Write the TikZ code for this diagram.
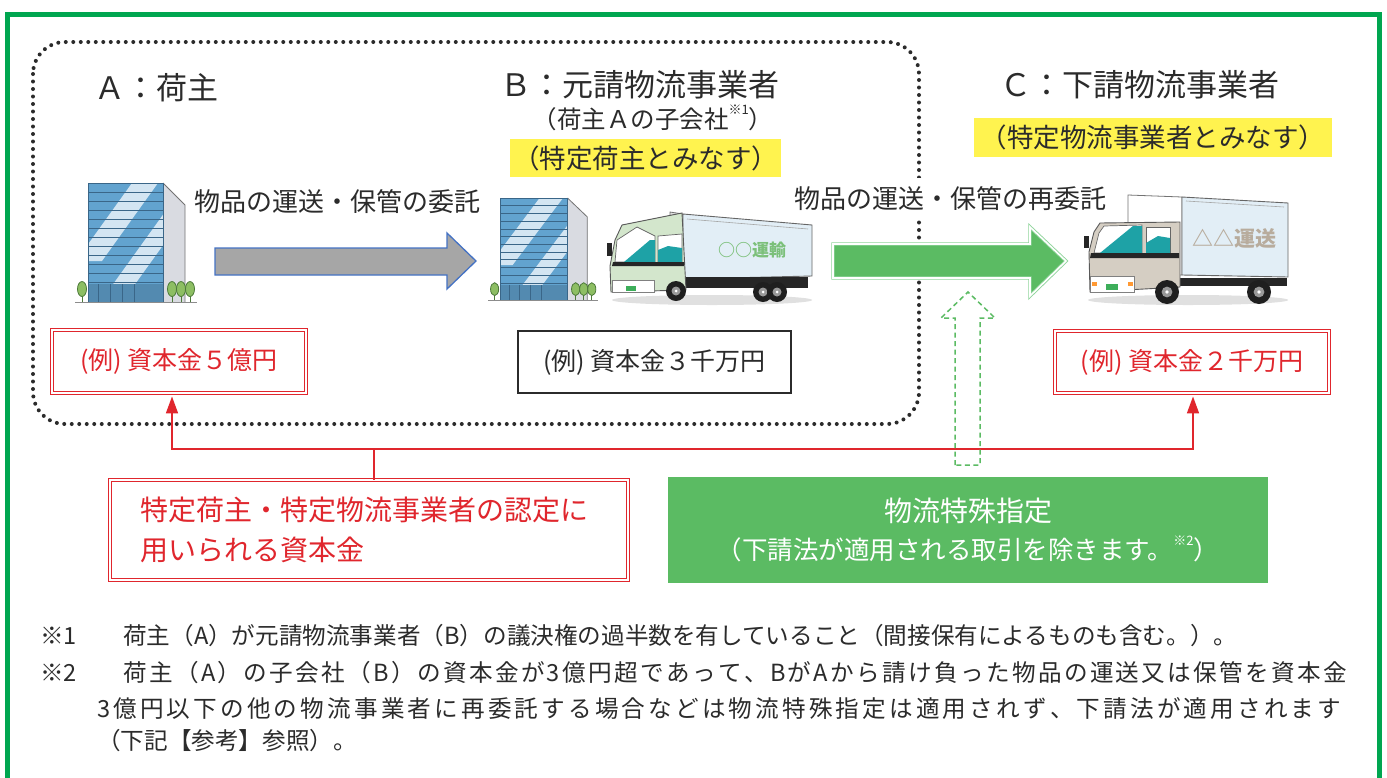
\documentclass[tikz,border=0pt]{standalone}
\usepackage{fontspec}
\setmainfont{Noto Sans CJK JP}
\usetikzlibrary{arrows.meta}
\definecolor{ink}{HTML}{2B2B2B}
\definecolor{capred}{HTML}{E0262D}
\definecolor{framegreen}{HTML}{00A650}
\definecolor{boxgreen}{HTML}{5BBB63}
\definecolor{lightgreen}{HTML}{8FD49B}
\definecolor{hiyellow}{HTML}{FFF34F}
\definecolor{arrowgray}{HTML}{A6A6A6}
\definecolor{arrowblue}{HTML}{4472C4}
\definecolor{facade}{HTML}{62A3CF}
\definecolor{stripe}{HTML}{D3E5F2}
\definecolor{bline}{HTML}{3A6688}
\definecolor{sidegray}{HTML}{D9DBE1}
\definecolor{treegreen}{HTML}{8DBE63}
\definecolor{treeedge}{HTML}{4D7A3A}
\definecolor{cabgreen}{HTML}{D3E6CC}
\definecolor{cabbeige}{HTML}{D5CEC3}
\definecolor{tealglass}{HTML}{1EA2A6}
\definecolor{boxblue}{HTML}{E2EEF6}
\definecolor{plategreen}{HTML}{3DAE5A}
\definecolor{taggreen}{HTML}{7CC07A}
\definecolor{tagbrown}{HTML}{B8AC9D}
\newcommand\fsz[1]{\fontsize{#1}{#1}\selectfont}
\newcommand\smark[1]{\raisebox{0.55em}{\fontsize{13}{13}\selectfont #1}}
\makeatletter
\def\jspread#1{\@jspread#1\@nil}
\def\@jspread#1{\ifx#1\@nil\else#1\hfil\expandafter\@jspread\fi}
\makeatother
\newcommand\officeblock{%
  \fill[sidegray] (75,0) -- (97,22) -- (97,119) -- (75,119) -- cycle;
  \draw[black!55, line width=0.8pt] (75,0) -- (97,22) -- (97,119);
  \fill[facade] (0,0) rectangle (75,119);
  \begin{scope}
    \clip (0,0) rectangle (75,101);
    \fill[stripe] (44,0) -- (70,0) -- (14,78) -- (-12,78) -- cycle;
    \fill[stripe] (82,22) -- (104,22) -- (45,104) -- (23,104) -- cycle;
  \end{scope}
  \foreach \k in {1,...,11} \draw[bline, line width=0.9pt] (0,{\k*9}) -- (75,{\k*9});
  \fill[facade!85!black] (0,101) rectangle (75,119);
  \foreach \k in {10,22,34,46} \draw[bline, line width=0.9pt] (\k,101) -- (\k,119);
  \draw[bline, line width=1pt] (0,0) rectangle (75,119);
  \foreach \tx in {-6,84,93,102} {
    \draw[treeedge, line width=0.8pt] (\tx,108) -- (\tx,119);
    \filldraw[fill=treegreen, draw=treeedge, line width=0.8pt] (\tx,106) ellipse (4.5 and 7.5);
  }
  \draw[black!45, line width=1pt] (-13,119) -- (109,119);
}
\newcommand\truckwheel[3]{%
  \fill[black!88] (#1,#2) circle (#3);
  \fill[black!40] (#1,#2) circle (#3*0.45);
  \fill[white] (#1,#2) circle (#3*0.15);
}
\begin{document}
\begin{tikzpicture}[x=1pt,y=-1pt,
  every node/.style={inner sep=0pt, text=ink},
  title/.style={anchor=west, font=\fsz{31}},
  flowlabel/.style={fill=white, inner xsep=4pt, inner ysep=9pt, font=\fsz{26}},
  hilite/.style={fill=hiyellow, font=\fsz{26.5}},
  capbox/.style={draw=capred, line width=0.9pt, double=white, double distance=1.6pt, text=capred, font=\fsz{25}},
  plainbox/.style={draw=ink, line width=1.8pt, font=\fsz{25}},
  capline/.style={draw=capred, line width=1.6pt},
  note/.style={anchor=west, font=\fsz{23.6}},
  tag/.style={font=\fsz{#1}\bfseries}]
\useasboundingbox (0,0) rectangle (1387,777);
\fill[white] (0,0) rectangle (1387,777);

% outer frame
\draw[framegreen, line width=5pt] (7.5,790) -- (7.5,14.5) -- (1379.5,14.5) -- (1379.5,790);

% dotted group A+B
\draw[ink, line width=4pt, line cap=round, dash pattern=on 0pt off 7.5pt, rounded corners=32pt] (33,42) rectangle (919,424);

% titles
\node[title] (tA) at (94,88) {Ａ：荷主};
\node[title] (tB) at (500,85) {Ｂ：元請物流事業者};
\node[title] (tC) at (1000,85) {Ｃ：下請物流事業者};
\node[font=\fsz{24.5}] (subB) at (653,118) {（荷主Ａの子会社\smark{※1}）};
\node[hilite, minimum width=271pt, minimum height=38pt] (hB) at (645.5,158) {（特定荷主とみなす）};
\node[hilite, minimum width=358pt, minimum height=39pt] (hC) at (1153,137.5) {（特定物流事業者とみなす）};

% flow labels
\node[flowlabel] (lab1) at (337,202) {物品の運送・保管の委託};
\node[flowlabel] (lab2) at (950,199) {物品の運送・保管の再委託};

% buildings
\begin{scope}[shift={(88,183)}]
  \officeblock
\end{scope}
\begin{scope}[shift={(500,198)}, xscale=0.9, yscale=0.86]
  \officeblock
\end{scope}

% truck B
\fill[black!12] (712,300) ellipse (100 and 5);
\filldraw[fill=black!12, draw=black!55, line width=0.8pt] (670,212) -- (683,214) -- (683,279) -- (670,279) -- cycle;
\filldraw[fill=boxblue, draw=black!60, line width=0.9pt] (683,214) -- (812,225) -- (812,276) -- (683,279) -- cycle;
\draw[black!35, line width=0.6pt] (687,219) -- (808,229);
\node[tag=17, text=taggreen] (tagB) at (752,250) {○○運輸};
\fill[black!85] (683,277) rectangle (808,288);
\filldraw[fill=cabgreen, draw=black!65, line width=0.9pt] (610,266) -- (615,240) -- (622,225) -- (682,213) -- (686,290) -- (611,292) -- cycle;
\filldraw[fill=white, draw=black!60, line width=0.7pt] (615,262) -- (617,240) -- (637,227) -- (655,236) -- (655,262) -- cycle;
\fill[tealglass] (624,262) -- (650,240) -- (655,240) -- (655,262) -- cycle;
\filldraw[fill=white, draw=black!60, line width=0.7pt] (658,236) -- (682,234) -- (682,262) -- (658,262) -- cycle;
\fill[tealglass] (658,250) -- (668,246) -- (682,248) -- (682,262) -- (658,262) -- cycle;
\fill[black!85] (613,262) -- (684,262) -- (684,266) -- (612,266) -- cycle;
\filldraw[fill=white, draw=black!50, line width=0.7pt] (612,280) rectangle (654,292);
\fill[plategreen] (626,286) rectangle (636,291);
\fill[black!85] (607,243) rectangle (612,256);
\truckwheel{676}{291}{10}
\truckwheel{763}{292}{10}
\truckwheel{777}{292}{10}

% truck C
\fill[black!12] (1188,300) ellipse (100 and 5);
\filldraw[fill=white, draw=black!55, line width=0.8pt] (1128,195) -- (1182,197) -- (1182,275) -- (1128,275) -- cycle;
\filldraw[fill=boxblue, draw=black!60, line width=0.9pt] (1182,197) -- (1288,203) -- (1288,277) -- (1182,275) -- cycle;
\draw[black!35, line width=0.6pt] (1186,201) -- (1284,207);
\node[tag=21, text=tagbrown] (tagC) at (1234,238) {△△運送};
\fill[black!85] (1180,278) rectangle (1287,286);
\filldraw[fill=cabbeige, draw=black!65, line width=0.9pt] (1089,252) -- (1094,232) -- (1100,223) -- (1180,222) -- (1180,287) -- (1090,292) -- cycle;
\filldraw[fill=white, draw=black!60, line width=0.7pt] (1094,253) -- (1099,233) -- (1104,226) -- (1142,225) -- (1142,253) -- cycle;
\fill[tealglass] (1100,253) -- (1133,226) -- (1142,226) -- (1142,253) -- cycle;
\filldraw[fill=white, draw=black!60, line width=0.7pt] (1146,227) -- (1170,227) -- (1170,253) -- (1146,253) -- cycle;
\fill[tealglass] (1146,243) -- (1158,236) -- (1170,238) -- (1170,253) -- (1146,253) -- cycle;
\fill[black!85] (1091,253) -- (1179,253) -- (1179,258) -- (1090,258) -- cycle;
\filldraw[fill=white, draw=black!50, line width=0.7pt] (1090,276) rectangle (1134,292);
\fill[plategreen] (1106,284) rectangle (1118,290);
\fill[orange!80] (1092,282) rectangle (1097,286);
\fill[orange!80] (1128,282) rectangle (1133,286);
\fill[black!85] (1084,236) rectangle (1089,248);
\truckwheel{1167}{292}{12}
\truckwheel{1259}{292}{12}

% flow arrows
\filldraw[fill=arrowgray, draw=arrowblue, line width=1.3pt] (215,248) -- (447,248) -- (447,233) -- (476,261) -- (447,289) -- (447,275) -- (215,275) -- cycle;
\filldraw[fill=boxgreen, draw=lightgreen, line width=0.9pt, double=white, double distance=1.6pt] (833,244) -- (1030,244) -- (1030,227) -- (1066,261) -- (1030,296) -- (1030,278) -- (833,278) -- cycle;

% capital boxes
\node[capbox, minimum width=254pt, minimum height=63pt] (boxA) at (179,361.5) {(例) 資本金５億円};
\node[plainbox, minimum width=273pt, minimum height=62pt] (boxB) at (654.5,362) {(例) 資本金３千万円};
\node[capbox, minimum width=274pt, minimum height=62pt] (boxC) at (1192,362) {(例) 資本金２千万円};

% bottom boxes
\node[capbox, text width=458pt, inner xsep=30pt, minimum height=100pt, align=left, font={\fontsize{28}{40}\selectfont}] (capnote) at (369,530) {特定荷主・特定物流事業者の認定に\\用いられる資本金};
\node[fill=boxgreen, minimum width=600pt, minimum height=106pt, text=white, align=center, font={\fontsize{28}{38}\selectfont}] (special) at (968,530) {物流特殊指定\\{\fontsize{25.5}{38}\selectfont （下請法が適用される取引を除きます。\smark{※2}）}};

% red connectors
\coordinate (stemtop) at (374,449);
\draw[capline] ([xshift=5pt]capnote.north) -- (stemtop);
\draw[capline, -{Triangle[length=17pt,width=12pt]}, shorten >=3pt] (stemtop) -| ([xshift=-7pt]boxA.south);
\draw[capline, -{Triangle[length=17pt,width=12pt]}, shorten >=3pt] (stemtop) -| ([xshift=1pt]boxC.south);

% dashed green arrow
\draw[boxgreen, line width=1.5pt, dash pattern=on 5pt off 3.5pt] (955,465) -- (955,318) -- (941,318) -- (968,292) -- (995,318) -- (980,318) -- (980,465) -- cycle;

% footnotes
\node[note] (m1) at (40,636) {※1};
\node[note] (f1) at (123,636) {荷主（A）が元請物流事業者（B）の議決権の過半数を有していること（間接保有によるものも含む。）。};
\node[note] (m2) at (40,673) {※2};
\node[note] (f2) at (123,673) {\hbox to 1224pt{\jspread{荷主（A）の子会社（B）の資本金が3億円超であって、BがAから請け負った物品の運送又は保管を資本金}\unskip}};
\node[note] (f3) at (97,709) {\hbox to 1244pt{\jspread{3億円以下の他の物流事業者に再委託する場合などは物流特殊指定は適用されず、下請法が適用されます}\unskip}};
\node[note] (f4) at (97,741) {（下記【参考】参照）。};
\end{tikzpicture}
\end{document}
